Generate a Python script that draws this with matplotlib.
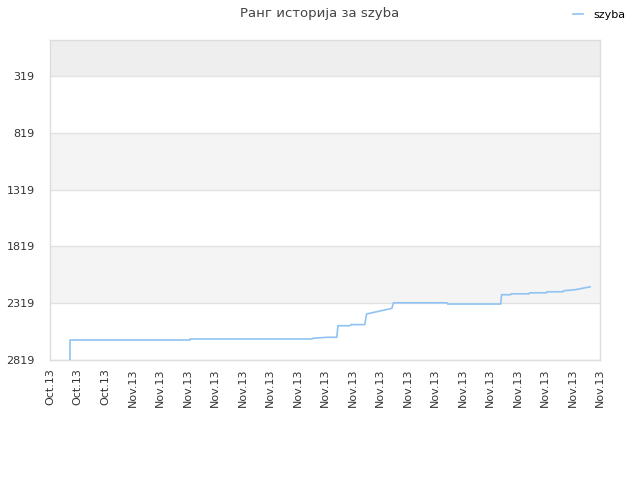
import matplotlib
matplotlib.use("Agg")
import matplotlib.pyplot as plt

title = "Ранг историја за szyba"
series_name = "szyba"
tick_labels = ["Oct.13"] * 3 + ["Nov.13"] * 18
y_ticks = [319, 819, 1319, 1819, 2319, 2819]

# time positions (in tick units) and ranks
t = [0.727, 0.727, 5.09, 5.09, 9.52, 9.56, 10.07, 10.43, 10.47, 10.9, 10.95,
     11.45, 11.51, 12.43, 12.49, 14.44, 14.46, 16.39, 16.42, 16.75, 16.77,
     17.42, 17.44, 18.06, 18.08, 18.65, 18.67, 19.09, 19.35, 19.64]
rank = [2819, 2643, 2643, 2634, 2634, 2628, 2619, 2619, 2517, 2517, 2507,
        2507, 2414, 2364, 2315, 2315, 2326, 2326, 2244, 2244, 2236,
        2236, 2227, 2227, 2218, 2218, 2209, 2200, 2188, 2174]

fig = plt.figure(figsize=(6.4, 4.8), dpi=100)
ax = fig.add_axes([50/640, 120/480, 550/640, 320/480])

ymin, ymax = 0, 2819
ax.set_ylim(ymax, ymin)
ax.set_xlim(0, len(tick_labels) - 1)

# bands
ax.axhspan(ymin, y_ticks[0], color="#eeeeee", zorder=0, lw=0)
for i in range(len(y_ticks) - 1):
    if i % 2 == 1:
        ax.axhspan(y_ticks[i], y_ticks[i + 1], color="#f4f4f4", zorder=0, lw=0)
for yt in y_ticks:
    ax.axhline(yt, color="#e2e2e2", lw=1, zorder=1)

ax.plot(t, rank, color="#90c3f3", lw=1.2, zorder=3, label=series_name)

ax.set_yticks(y_ticks)
ax.set_yticklabels([str(v) for v in y_ticks])
ax.set_xticks(range(len(tick_labels)))
ax.set_xticklabels(tick_labels, rotation=90)
ax.tick_params(axis="both", length=0, labelsize=8, labelcolor="#333333")
ax.tick_params(axis="y", pad=11)
ax.tick_params(axis="x", pad=6)
for s in ax.spines.values():
    s.set_color("#dddddd")
    s.set_linewidth(1)

fig.suptitle(title, x=0.5, y=0.985, fontsize=9.5, color="#444444")
fig.legend(loc="upper right", bbox_to_anchor=(0.993, 1.0), frameon=False,
           fontsize=8, handlelength=0.9, handletextpad=0.9)

fig.savefig("out.png", dpi=100, facecolor="white")
